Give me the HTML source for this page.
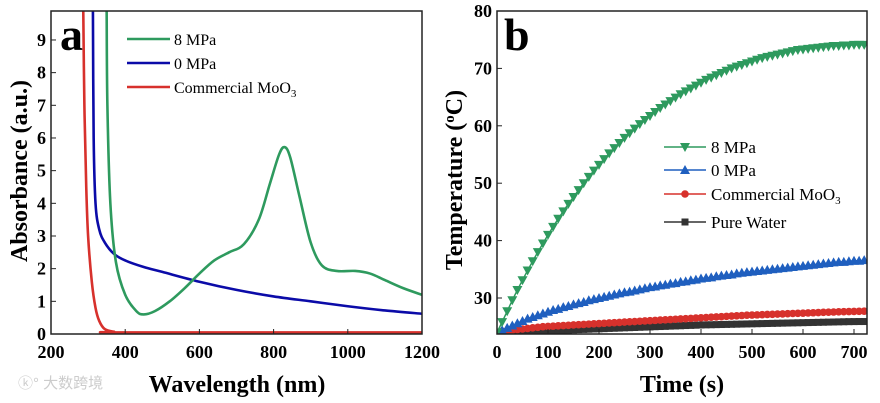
<!DOCTYPE html>
<html><head><meta charset="utf-8"><style>
body{margin:0;background:#fff}
svg{display:block;font-family:"Liberation Serif","Noto Serif CJK SC",serif}
.tk{font-size:18px;font-weight:bold}
.lg{font-size:16px}
.lgb{font-size:17px}
</style></head><body>
<svg id="s" width="880" height="403">
<text x="18" y="388" fill="#ccc" font-size="15" font-family="Liberation Sans,Noto Sans CJK SC,sans-serif">ⓚ° 大数跨境</text>
</svg>
<script>
// Panel a data
const aWave8=[350,352,360,375,400,430,450,480,520,560,600,640,680,720,760,790,815,830,845,870,900,930,970,1020,1060,1100,1150,1200];
const aAbs8=[9.9,7,4,2.2,1.2,0.7,0.6,0.7,1.0,1.4,1.85,2.25,2.5,2.75,3.5,4.6,5.5,5.72,5.4,4.2,2.8,2.1,1.93,1.93,1.85,1.65,1.4,1.2];
const aWave0=[313,315,320,330,345,370,400,450,500,600,700,800,900,1000,1100,1200];
const aAbs0=[9.9,6,4,3.2,2.8,2.45,2.25,2.05,1.9,1.6,1.35,1.15,1.0,0.85,0.72,0.62];
const aWaveC=[287,290,295,300,310,320,330,345,370,400,1200];
const aAbsC=[9.9,7,4.5,3,1.6,0.8,0.4,0.15,0.07,0.05,0.05];
const aXTicks=[200,400,600,800,1000,1200];
const aYTicks=[0,1,2,3,4,5,6,7,8,9];
// Panel b data (every 10 s)
const bT8=[24,25.8,27.7,29.6,31.4,33.1,34.8,36.4,38,39.5,41,42.4,43.8,45.1,46.4,47.6,48.8,50,51.1,52.2,53.2,54.2,55.2,56.1,57,57.9,58.7,59.5,60.3,61,61.7,62.4,63.1,63.7,64.3,64.9,65.5,66,66.5,67,67.5,68,68.4,68.8,69.2,69.6,70,70.3,70.6,70.9,71.2,71.5,71.8,72,72.2,72.4,72.6,72.8,73,73.2,73.3,73.4,73.5,73.6,73.7,73.8,73.9,73.9,74,74,74.1,74.1,74.1];
const bT0=[24,24.4,24.8,25.2,25.6,26,26.4,26.7,27,27.3,27.6,27.9,28.1,28.4,28.6,28.9,29.1,29.3,29.6,29.8,30,30.2,30.4,30.6,30.8,31,31.1,31.3,31.5,31.7,31.9,32,32.2,32.3,32.5,32.6,32.8,32.9,33.1,33.2,33.4,33.5,33.6,33.8,33.9,34,34.1,34.3,34.4,34.5,34.6,34.7,34.8,34.9,35,35.1,35.2,35.3,35.4,35.5,35.6,35.7,35.8,35.9,36,36.1,36.2,36.3,36.3,36.4,36.5,36.5,36.6];
const bTC=[24,24.2,24.3,24.4,24.5,24.6,24.7,24.8,24.9,25,25.05,25.1,25.15,25.2,25.25,25.3,25.35,25.4,25.45,25.5,25.55,25.6,25.65,25.7,25.75,25.8,25.85,25.9,25.95,26,26.05,26.1,26.15,26.2,26.25,26.3,26.35,26.4,26.45,26.5,26.55,26.6,26.65,26.7,26.75,26.8,26.85,26.9,26.95,27,27.03,27.06,27.1,27.13,27.16,27.2,27.23,27.26,27.3,27.33,27.36,27.4,27.43,27.46,27.5,27.53,27.56,27.6,27.62,27.64,27.66,27.68,27.7];
const bTW=[23.8,23.85,23.9,23.95,24,24.05,24.1,24.15,24.2,24.25,24.3,24.33,24.36,24.4,24.43,24.46,24.5,24.53,24.56,24.6,24.63,24.66,24.7,24.73,24.76,24.8,24.83,24.86,24.9,24.93,24.96,25,25.03,25.06,25.1,25.13,25.16,25.2,25.23,25.26,25.3,25.32,25.34,25.36,25.38,25.4,25.42,25.44,25.46,25.48,25.5,25.52,25.54,25.56,25.58,25.6,25.62,25.64,25.66,25.68,25.7,25.72,25.74,25.76,25.78,25.8,25.82,25.84,25.86,25.88,25.89,25.9,25.9];
const bXTicks=[0,100,200,300,400,500,600,700];
const bYTicks=[30,40,50,60,70,80];

const svg=document.getElementById('s');const NS='http://www.w3.org/2000/svg';
function mk(t,a,p){const e=document.createElementNS(NS,t);for(const k in a)e.setAttribute(k,a[k]);(p||svg).appendChild(e);return e;}
function txt(x,y,s,a,p){const e=mk('text',Object.assign({x,y},a),p);e.textContent=s;return e;}
function smooth(pts){let d='M'+pts[0][0]+','+pts[0][1];for(let i=0;i<pts.length-1;i++){const p0=pts[i-1]||pts[i],p1=pts[i],p2=pts[i+1],p3=pts[i+2]||p2;const c1x=p1[0]+(p2[0]-p0[0])/6,c1y=p1[1]+(p2[1]-p0[1])/6,c2x=p2[0]-(p3[0]-p1[0])/6,c2y=p2[1]-(p3[1]-p1[1])/6;d+=`C${c1x},${c1y} ${c2x},${c2y} ${p2[0]},${p2[1]}`;}return d;}

// ---- panel a ----
const ax=v=>51+(v-200)*(371/1000), ay=v=>334-v*32.67;
const ga=mk('g',{});
const ca=mk('clipPath',{id:'ca'},ga);mk('rect',{x:51,y:11,width:371,height:323},ca);
function line(xs,ys,fx,fy,col,name,g,clip){const p=mk('path',{d:smooth(xs.map((x,i)=>[fx(x),fy(ys[i])])),fill:'none',stroke:col,'stroke-width':2.6,'stroke-linejoin':'round','clip-path':'url(#'+clip+')'},g);}
line(aWaveC,aAbsC,ax,ay,'#d7312c','line-commercial-moo3',ga,'ca');
line(aWave0,aAbs0,ax,ay,'#0b0ba8','line-0mpa',ga,'ca');
line(aWave8,aAbs8,ax,ay,'#2e9a5e','line-8mpa',ga,'ca');
mk('rect',{x:51,y:11,width:371,height:323,fill:'none',stroke:'#222','stroke-width':1.5},ga);
aXTicks.forEach(v=>{mk('line',{x1:ax(v),x2:ax(v),y1:334,y2:329,stroke:'#222'},ga);const t=txt(ax(v),358,v,{class:'tk','text-anchor':'middle'},ga);});
aYTicks.forEach(v=>{mk('line',{x1:51,x2:56,y1:ay(v),y2:ay(v),stroke:'#222'},ga);const t=txt(46,ay(v)+6,v,{class:'tk','text-anchor':'end'},ga);});
let t=txt(237,392,'Wavelength (nm)',{'font-size':24,'font-weight':'bold','text-anchor':'middle'},ga);
t=txt(0,0,'Absorbance (a.u.)',{'font-size':24,'font-weight':'bold','text-anchor':'middle',transform:'translate(27,171) rotate(-90)'},ga);
t=txt(60,50,'a',{'font-size':46,'font-weight':'bold'},ga);
[['8 MPa','#2e9a5e',45],['0 MPa','#0b0ba8',69],['Commercial MoO','#d7312c',93]].forEach((d,i)=>{const g=mk('g',{},ga);mk('line',{x1:127,x2:170,y1:d[2]-6,y2:d[2]-6,stroke:d[1],'stroke-width':2.6},g);const tt=txt(174,d[2],d[0],{class:'lg'},g);if(i==2){const s=mk('tspan',{'font-size':11,dy:4},tt);s.textContent='3';}});

// ---- panel b ----
const bx=v=>497+v*0.51, by=v=>298-(v-30)*5.74;
const gb=mk('g',{});
const cb=mk('clipPath',{id:'cb'},gb);mk('rect',{x:497,y:11,width:370,height:323},cb);
const series=[[bTW,'#333','square','series-pure-water'],[bTC,'#d7312c','circle','series-commercial-moo3'],[bT0,'#1f5fbf','up','series-0mpa'],[bT8,'#2e9a5e','down','series-8mpa']];
function marker(g,shape,x,y,c){if(shape=='square')return mk('rect',{x:x-3.5,y:y-3.5,width:7,height:7,fill:c},g);if(shape=='circle')return mk('circle',{cx:x,cy:y,r:3.8,fill:c},g);if(shape=='up')return mk('path',{d:`M${x},${y-5}L${x+5},${y+4}L${x-5},${y+4}Z`,fill:c},g);return mk('path',{d:`M${x},${y+5}L${x+5},${y-4}L${x-5},${y-4}Z`,fill:c},g);}
series.forEach(s=>{const g=mk('g',{'clip-path':'url(#cb)'},gb);
mk('polyline',{points:s[0].map((v,i)=>bx(i*10)+','+by(v)).join(' '),fill:'none',stroke:s[1],'stroke-width':1.5},g);
s[0].forEach((v,i)=>{const m=marker(g,s[2],bx(i*10),by(v),s[1]);});});
mk('rect',{x:497,y:11,width:370,height:323,fill:'none',stroke:'#222','stroke-width':1.5},gb);
bXTicks.forEach(v=>{mk('line',{x1:bx(v),x2:bx(v),y1:334,y2:329,stroke:'#222'},gb);const t=txt(bx(v),358,v,{class:'tk','text-anchor':'middle'},gb);});
bYTicks.forEach(v=>{mk('line',{x1:497,x2:502,y1:by(v),y2:by(v),stroke:'#222'},gb);const t=txt(492,by(v)+6,v,{class:'tk','text-anchor':'end'},gb);});
t=txt(682,392,'Time (s)',{'font-size':24,'font-weight':'bold','text-anchor':'middle'},gb);
t=txt(0,0,'',{'font-size':24,'font-weight':'bold','text-anchor':'middle',transform:'translate(462,180) rotate(-90)'},gb);
t.appendChild(document.createTextNode('Temperature ('));let sp=mk('tspan',{'font-size':15,dy:-8},t);sp.textContent='o';sp=mk('tspan',{dy:8},t);sp.textContent='C)';
t=txt(504,50,'b',{'font-size':46,'font-weight':'bold'},gb);
[['8 MPa','#2e9a5e','down',153],['0 MPa','#1f5fbf','up',176],['Commercial MoO','#d7312c','circle',200],['Pure Water','#333','square',228]].forEach((d,i)=>{const g=mk('g',{},gb);mk('line',{x1:664,x2:706,y1:d[3]-6,y2:d[3]-6,stroke:d[1],'stroke-width':1.5},g);marker(g,d[2],685,d[3]-6,d[1]);const tt=txt(711,d[3],d[0],{class:'lgb'},g);if(i==2){const s=mk('tspan',{'font-size':11,dy:4},tt);s.textContent='3';}});
</script>
</body></html>
